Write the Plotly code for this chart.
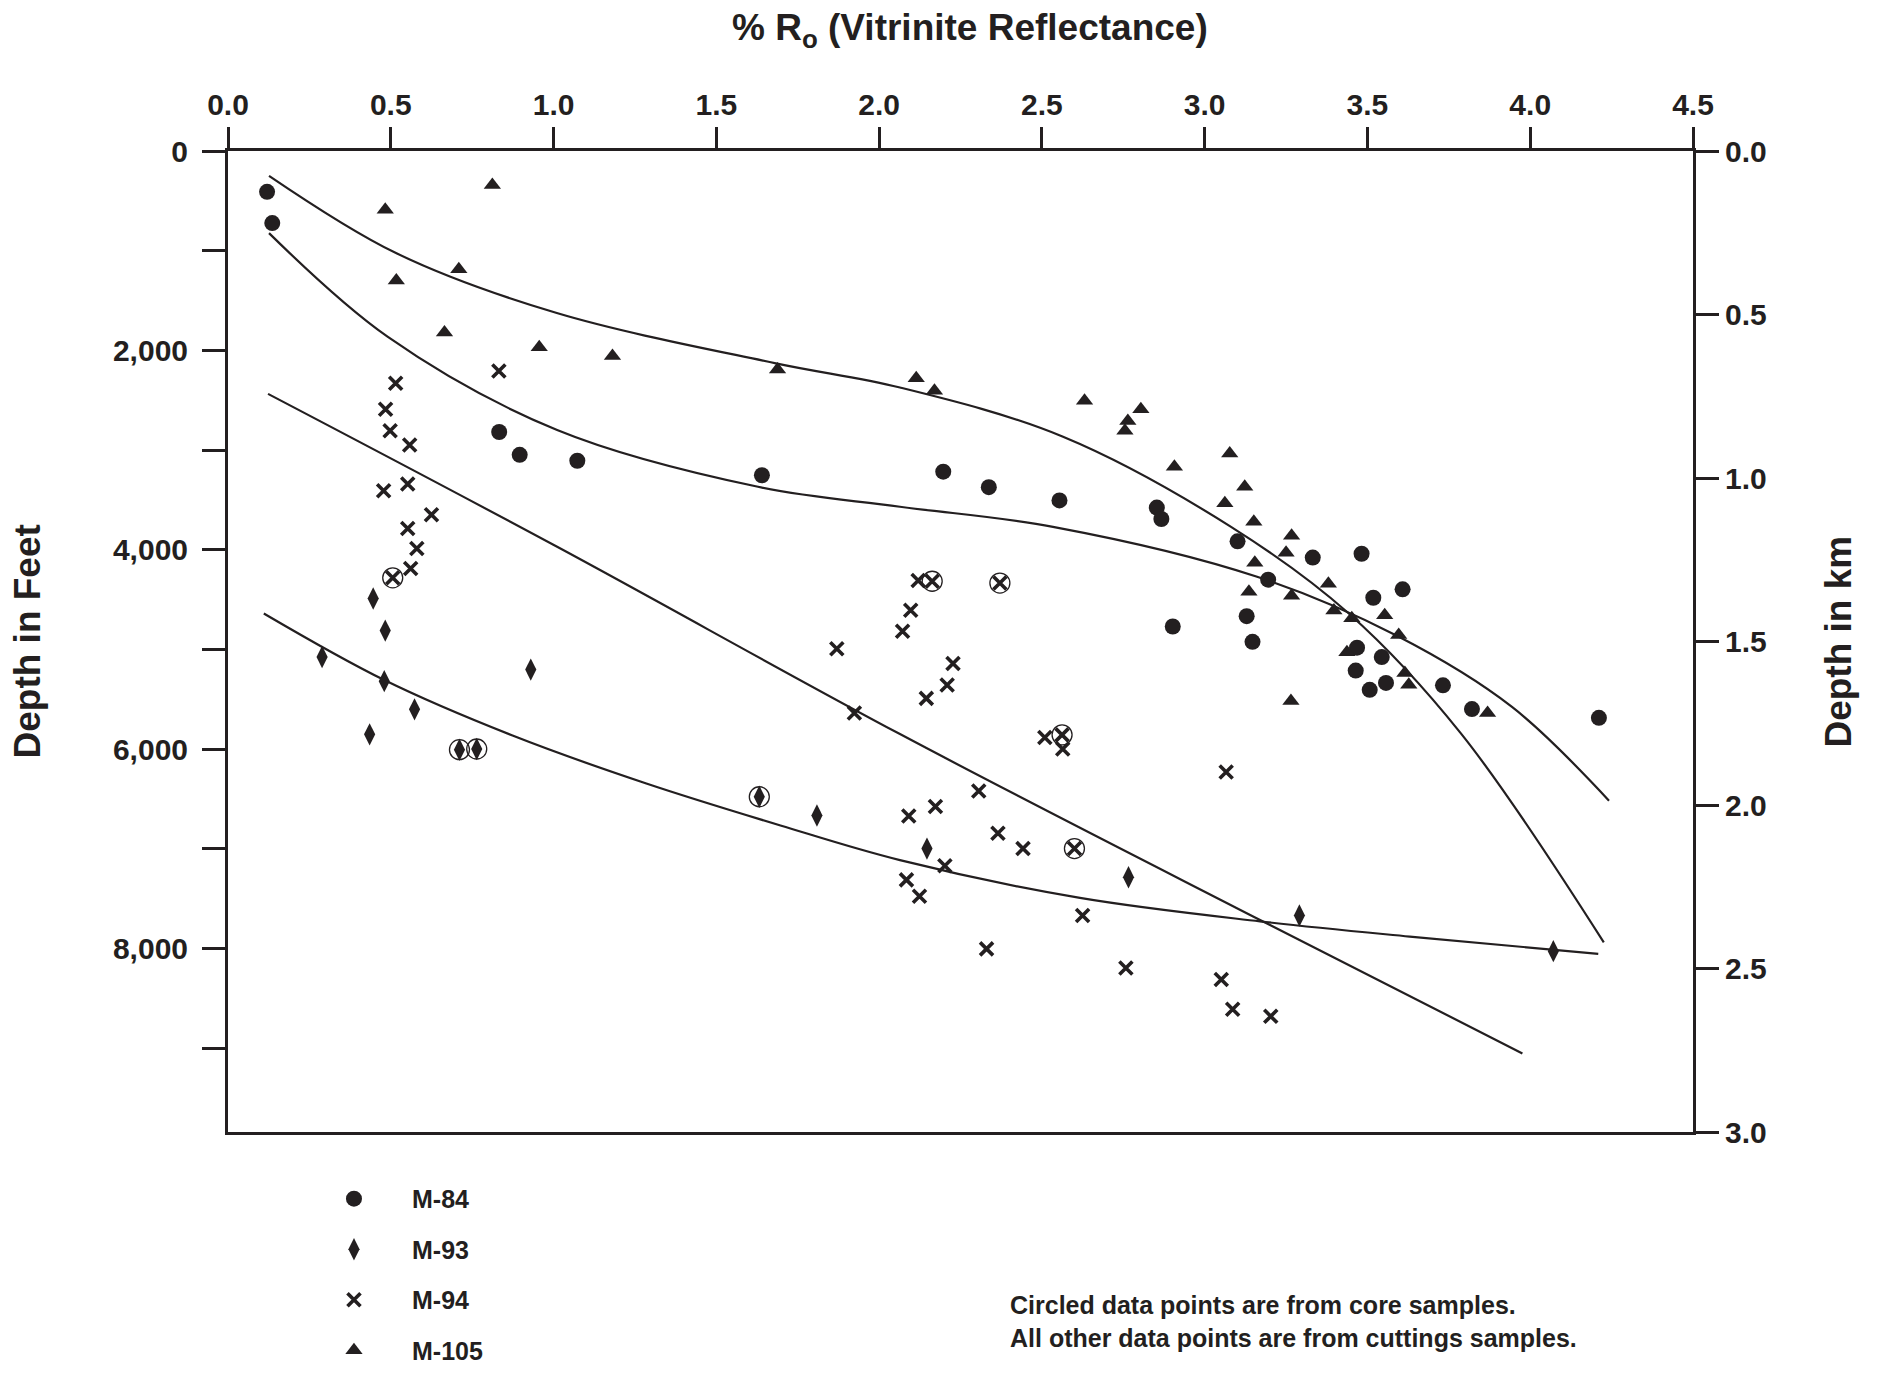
import plotly.graph_objects as go

# Vitrinite reflectance (%Ro) vs depth (ft) for four wells
m84_ro = [0.120, 0.136, 0.833, 0.896, 1.073, 1.640, 2.197, 2.337, 2.554, 2.853,
          2.867, 2.902, 3.101, 3.195, 3.129, 3.147, 3.332, 3.482, 3.518, 3.608,
          3.468, 3.464, 3.544, 3.507, 3.557, 3.732, 3.821, 4.211]
m84_ft = [410, 723, 2819, 3048, 3108, 3253, 3217, 3373, 3506, 3578,
          3692, 4771, 3916, 4301, 4667, 4925, 4079, 4041, 4482, 4398,
          4983, 5213, 5078, 5406, 5337, 5361, 5599, 5687]

m93_ro = [0.446, 0.483, 0.289, 0.480, 0.930, 0.573, 0.435, 0.711, 0.764, 1.632,
          1.809, 2.147, 2.766, 3.291, 4.071]
m93_ft = [4490, 4812, 5077, 5319, 5203, 5602, 5853, 6007, 6000, 6479,
          6667, 6999, 7287, 7671, 8028]
m93_core = [False, False, False, False, False, False, False, True, True, True,
            False, False, False, False, False]

m94_ro = [0.832, 0.515, 0.484, 0.498, 0.558, 0.478, 0.552, 0.625, 0.552, 0.580,
          0.561, 0.506, 1.870, 1.924, 2.120, 2.163, 2.371, 2.097, 2.072, 2.227,
          2.209, 2.145, 2.509, 2.562, 2.564, 3.066, 2.306, 2.173, 2.091, 2.365,
          2.442, 2.600, 2.202, 2.084, 2.124, 2.625, 2.330, 2.758, 3.051, 3.086,
          3.203]
m94_ft = [2207, 2330, 2592, 2806, 2949, 3408, 3341, 3649, 3787, 3988,
          4188, 4282, 4993, 5638, 4310, 4317, 4335, 4608, 4819, 5143,
          5358, 5492, 5884, 5858, 6000, 6230, 6422, 6576, 6672, 6845,
          6999, 6999, 7171, 7313, 7478, 7671, 8005, 8197, 8312, 8612,
          8682]
m94_core = [False] * 41
for i in (11, 15, 16, 23, 31):
    m94_core[i] = True

m105_ro = [0.812, 0.483, 0.709, 0.517, 0.665, 0.956, 1.181, 1.688, 2.114, 2.170,
           2.631, 2.804, 2.764, 2.755, 2.907, 3.077, 3.062, 3.123, 3.151, 3.267,
           3.250, 3.154, 3.136, 3.267, 3.380, 3.397, 3.452, 3.437, 3.553, 3.596,
           3.615, 3.627, 3.265, 3.869]
m105_ft = [340, 590, 1186, 1300, 1822, 1969, 2057, 2193, 2281, 2405,
           2505, 2590, 2708, 2806, 3167, 3034, 3535, 3369, 3719, 3860,
           4031, 4132, 4422, 4463, 4343, 4610, 4689, 5028, 4657, 4855,
           5238, 5354, 5518, 5638]

# hand-drawn trend curves
curve_a_ro = [0.126, 0.516, 1.010, 1.683, 2.064, 2.565, 3.081, 3.442, 3.787, 4.226]
curve_a_ft = [249, 1024, 1626, 2130, 2373, 2867, 3771, 4638, 5843, 7940]
curve_b_ro = [0.126, 0.490, 1.011, 1.628, 2.064, 2.534, 3.161, 3.592, 3.944, 4.242]
curve_b_ft = [824, 1863, 2799, 3369, 3569, 3771, 4272, 4867, 5578, 6518]
curve_c_ro = [0.123, 1.011, 2.064, 3.161, 3.976]
curve_c_ft = [2437, 3971, 5850, 7700, 9054]
curve_d_ro = [0.110, 0.480, 0.874, 1.285, 1.697, 2.064, 2.617, 3.170, 3.630, 4.209]
curve_d_ft = [4640, 5308, 5865, 6346, 6767, 7115, 7494, 7729, 7882, 8055]

ro_ticks = [0.0, 0.5, 1.0, 1.5, 2.0, 2.5, 3.0, 3.5, 4.0, 4.5]
ft_ticks = [0, 2000, 4000, 6000, 8000]
ft_labels = ['0', '2,000', '4,000', '6,000', '8,000']
km_ticks = [0.0, 0.5, 1.0, 1.5, 2.0, 2.5, 3.0]

INK = '#231f20'
FONT = 'Liberation Sans, Arial, Helvetica, sans-serif'
FT_PER_KM = 3280.84

fig = go.Figure()

for cx, cy in [(curve_a_ro, curve_a_ft), (curve_b_ro, curve_b_ft),
               (curve_c_ro, curve_c_ft), (curve_d_ro, curve_d_ft)]:
    fig.add_trace(go.Scatter(x=cx, y=cy, mode='lines', showlegend=False,
                             line=dict(color=INK, width=2.2, shape='spline', smoothing=1.0),
                             hoverinfo='skip'))

fig.add_trace(go.Scatter(x=m84_ro, y=m84_ft, mode='markers', name='M-84',
                         legendgroup='a',
                         marker=dict(symbol='circle', size=16, color=INK)))
fig.add_trace(go.Scatter(x=m93_ro, y=m93_ft, mode='markers', name='M-93',
                         legendgroup='b',
                         marker=dict(symbol='diamond-tall', size=16, color=INK,
                                     line=dict(width=0))))
fig.add_trace(go.Scatter(x=m94_ro, y=m94_ft, mode='markers', name='M-94',
                         legendgroup='c',
                         marker=dict(symbol='x-thin', size=13, color=INK,
                                     line=dict(width=3.6, color=INK))))
fig.add_trace(go.Scatter(x=m105_ro, y=m105_ft, mode='markers', name='M-105',
                         legendgroup='d',
                         marker=dict(symbol='triangle-up', size=15, color=INK)))

# circles around the core samples
core_ro = [r for r, c in zip(m93_ro, m93_core) if c] + [r for r, c in zip(m94_ro, m94_core) if c]
core_ft = [d for d, c in zip(m93_ft, m93_core) if c] + [d for d, c in zip(m94_ft, m94_core) if c]
fig.add_trace(go.Scatter(x=core_ro, y=core_ft, mode='markers', showlegend=False,
                         marker=dict(symbol='circle-open', size=20, color=INK,
                                     line=dict(width=1.3, color=INK))))

# invisible trace to carry the km axis
fig.add_trace(go.Scatter(x=[None], y=[None], yaxis='y2', showlegend=False))

axis_common = dict(showline=True, linewidth=3, linecolor=INK, ticks='outside',
                   tickwidth=2.5, tickcolor=INK, showgrid=False, zeroline=False,
                   tickfont=dict(family=FONT, size=30, color=INK, weight='bold'))

fig.update_layout(
    width=1873, height=1372,
    plot_bgcolor='white', paper_bgcolor='white',
    margin=dict(l=220, r=188, t=143, b=248, autoexpand=False),
    xaxis=dict(side='top', range=[0, 4.5], tickvals=ro_ticks,
               ticktext=[f'{v:.1f}' for v in ro_ticks], ticklen=21, mirror=True,
               **axis_common),
    yaxis=dict(range=[3.0 * FT_PER_KM, 0], tickvals=ft_ticks, ticktext=ft_labels,
               ticklen=23, ticklabelstandoff=8,
               minor=dict(ticks='outside', tickmode='linear', tick0=0, dtick=1000,
                          ticklen=23, tickwidth=2.5, tickcolor=INK, showgrid=False),
               **axis_common),
    yaxis2=dict(overlaying='y', side='right', anchor='x', range=[3.0, 0],
                tickvals=km_ticks, ticktext=[f'{v:.1f}' for v in km_ticks],
                ticklen=23, **axis_common),
    legend=dict(x=0.0464, y=-0.0448, xanchor='left', yanchor='top',
                font=dict(family=FONT, size=25, color=INK, weight='bold'),
                tracegroupgap=15, itemwidth=106, bgcolor='rgba(0,0,0,0)'),
    showlegend=True,
)

title_font = dict(family=FONT, size=37, color=INK, weight='bold')
fig.add_annotation(text='% R<sub>o</sub> (Vitrinite Reflectance)', xref='paper', yref='paper',
                   x=0.5065, y=1.1230, showarrow=False, font=title_font,
                   xanchor='center', yanchor='middle')
fig.add_annotation(text='Depth in Feet', xref='paper', yref='paper', x=-0.1372, y=0.5,
                   textangle=-90, showarrow=False, font=title_font,
                   xanchor='center', yanchor='middle')
fig.add_annotation(text='Depth in km', xref='paper', yref='paper', x=1.099, y=0.5,
                   textangle=-90, showarrow=False, font=title_font,
                   xanchor='center', yanchor='middle')
fig.add_annotation(text='Circled data points are from core samples.<br>'
                        'All other data points are from cuttings samples.',
                   xref='paper', yref='paper', x=0.5324, y=-0.1927, showarrow=False,
                   xanchor='left', yanchor='middle', align='left',
                   font=dict(family=FONT, size=25, color=INK, weight='bold'))

fig.write_html('out.html')
